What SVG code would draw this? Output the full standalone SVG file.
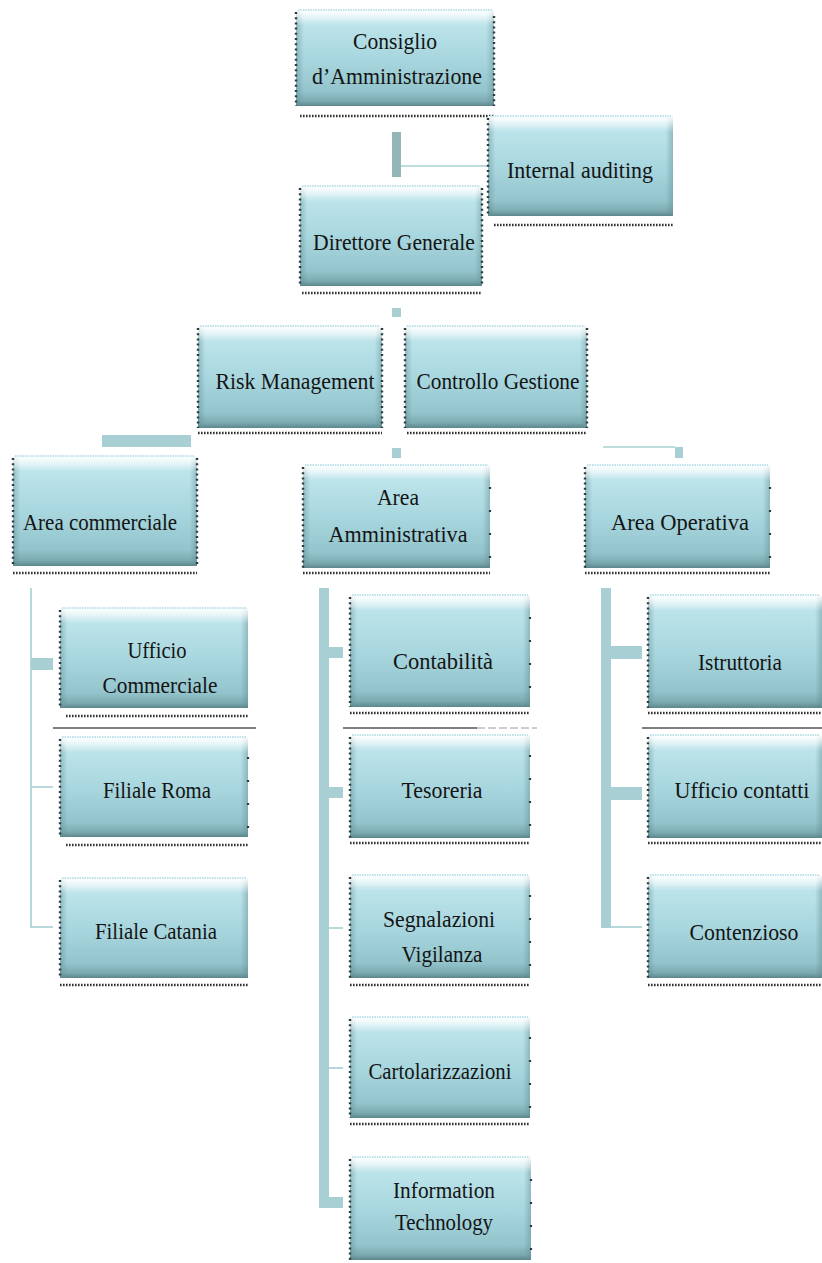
<svg xmlns="http://www.w3.org/2000/svg" width="822" height="1263" viewBox="0 0 822 1263">
<defs>
<linearGradient id="g" x1="0" y1="0" x2="0" y2="1">
<stop offset="0" stop-color="#e4f5f8"/>
<stop offset="0.12" stop-color="#bde4eb"/>
<stop offset="0.5" stop-color="#a9d7df"/>
<stop offset="0.85" stop-color="#93c4cc"/>
<stop offset="0.95" stop-color="#7caab1"/>
<stop offset="1" stop-color="#5b868c"/>
</linearGradient>
<linearGradient id="hl" x1="0" y1="0" x2="0" y2="1">
<stop offset="0" stop-color="#ffffff" stop-opacity="0.9"/>
<stop offset="1" stop-color="#ffffff" stop-opacity="0"/>
</linearGradient>
<linearGradient id="side" x1="0" y1="0" x2="1" y2="0">
<stop offset="0" stop-color="#5f8a90" stop-opacity="0.45"/>
<stop offset="0.04" stop-color="#5f8a90" stop-opacity="0"/>
<stop offset="0.96" stop-color="#5f8a90" stop-opacity="0"/>
<stop offset="1" stop-color="#5f8a90" stop-opacity="0.45"/>
</linearGradient>
</defs>
<style>
.box{fill:url(#g)}
.sd{fill:url(#side)}
.hl{fill:url(#hl)}
.dl{stroke:#2e3b3d;stroke-width:2.4;stroke-dasharray:2 3.2;fill:none}
.dr{stroke:#2e3b3d;stroke-width:2.2;stroke-dasharray:2 21;fill:none}
.db{stroke:#333;stroke-width:2.6;stroke-dasharray:1.6 1.4;fill:none}
.dt{stroke:#a9d9e3;stroke-width:1.5;stroke-dasharray:1.5 1;fill:none}
.t{font-family:"Liberation Serif","DejaVu Serif",serif;font-size:22.5px;fill:#141414;text-anchor:middle}
.c{fill:#a8cfd3}
.cl{stroke:#a8cfd3;stroke-width:1.6;fill:none}
.bk{stroke:#000;stroke-width:1.2;fill:none}
</style>

<g id="connectors">
<rect x="392" y="132" width="9" height="45" fill="#93b6b8"/>
<line class="cl" x1="401" y1="166" x2="488" y2="166"/>
<rect class="c" x="392" y="308" width="9" height="9"/>
<rect class="c" x="392" y="448" width="9" height="10"/>
<rect class="c" x="102" y="435" width="89" height="12"/>
<line class="cl" x1="603" y1="447" x2="675" y2="447"/>
<rect class="c" x="675" y="447" width="8" height="11"/>
<line class="cl" x1="31" y1="588" x2="31" y2="928"/>
<rect class="c" x="31" y="658" width="22" height="12"/>
<line class="cl" x1="31" y1="787" x2="53" y2="787"/>
<line class="cl" x1="31" y1="927" x2="53" y2="927"/>
<rect class="c" x="319" y="588" width="10" height="620"/>
<rect class="c" x="329" y="647" width="14" height="11"/>
<rect class="c" x="329" y="787" width="14" height="11"/>
<line class="cl" x1="329" y1="928" x2="343" y2="928"/>
<line class="cl" x1="329" y1="1068" x2="343" y2="1068"/>
<rect class="c" x="319" y="1197" width="24" height="11"/>
<rect class="c" x="601" y="588" width="10" height="340"/>
<rect class="c" x="611" y="646" width="31" height="13"/>
<rect class="c" x="611" y="787" width="31" height="13"/>
<line class="cl" x1="611" y1="927" x2="642" y2="927"/>
<line class="bk" x1="53" y1="728" x2="256" y2="728"/>
<line class="bk" x1="343" y1="728" x2="477" y2="728"/>
<line x1="477" y1="728" x2="537" y2="728" stroke="#9a9a9a" stroke-width="1" stroke-dasharray="8 3"/>
<line class="bk" x1="642" y1="728" x2="822" y2="728"/>
</g>

<g id="n-consiglio">
<rect class="box" x="296" y="10" width="198" height="96"/><rect class="sd" x="296" y="10" width="198" height="96"/><rect class="hl" x="296" y="10" width="198" height="16"/>
<line class="dt" x1="298" y1="10" x2="492" y2="10"/><line class="dl" x1="296" y1="12" x2="296" y2="106"/><line class="dl" x1="494" y1="16" x2="494" y2="106"/><line class="db" x1="300" y1="116" x2="494" y2="116"/>
<text class="t" x="395" y="49" textLength="84" lengthAdjust="spacingAndGlyphs">Consiglio</text>
<text class="t" x="397" y="84" textLength="170" lengthAdjust="spacingAndGlyphs">d’Amministrazione</text>
</g>

<g id="n-internal">
<rect class="box" x="488" y="116" width="185" height="100"/><rect class="sd" x="488" y="116" width="185" height="100"/><rect class="hl" x="488" y="116" width="185" height="16"/>
<line class="dt" x1="490" y1="116" x2="671" y2="116"/><line class="dl" x1="488" y1="118" x2="488" y2="216"/><line class="db" x1="494" y1="225" x2="673" y2="225" stroke-dasharray="2 4"/>
<text class="t" x="580" y="178" textLength="146" lengthAdjust="spacingAndGlyphs">Internal auditing</text>
</g>

<g id="n-direttore">
<rect class="box" x="300" y="186" width="182" height="100"/><rect class="sd" x="300" y="186" width="182" height="100"/><rect class="hl" x="300" y="186" width="182" height="16"/>
<line class="dt" x1="302" y1="186" x2="480" y2="186"/><line class="dl" x1="300" y1="188" x2="300" y2="286"/><line class="dl" x1="482" y1="188" x2="482" y2="286"/><line class="db" x1="302" y1="293" x2="482" y2="293"/>
<text class="t" x="394" y="250" textLength="162" lengthAdjust="spacingAndGlyphs">Direttore Generale</text>
</g>

<g id="n-risk">
<rect class="box" x="198" y="326" width="184" height="102"/><rect class="sd" x="198" y="326" width="184" height="102"/><rect class="hl" x="198" y="326" width="184" height="16"/>
<line class="dt" x1="200" y1="326" x2="380" y2="326"/><line class="dl" x1="198" y1="328" x2="198" y2="428"/><line class="dl" x1="382" y1="328" x2="382" y2="428"/><line class="db" x1="198" y1="433" x2="382" y2="433"/>
<text class="t" x="295" y="389" textLength="159" lengthAdjust="spacingAndGlyphs">Risk Management</text>
</g>

<g id="n-controllo">
<rect class="box" x="405" y="326" width="182" height="102"/><rect class="sd" x="405" y="326" width="182" height="102"/><rect class="hl" x="405" y="326" width="182" height="16"/>
<line class="dt" x1="407" y1="326" x2="585" y2="326"/><line class="dl" x1="405" y1="328" x2="405" y2="428"/><line class="dl" x1="587" y1="328" x2="587" y2="428"/><line class="db" x1="407" y1="433" x2="587" y2="433"/>
<text class="t" x="498" y="389" textLength="163" lengthAdjust="spacingAndGlyphs">Controllo Gestione</text>
</g>

<g id="n-commerciale">
<rect class="box" x="13" y="456" width="184" height="110"/><rect class="sd" x="13" y="456" width="184" height="110"/><rect class="hl" x="13" y="456" width="184" height="16"/>
<line class="dt" x1="15" y1="456" x2="195" y2="456"/><line class="dl" x1="13" y1="458" x2="13" y2="566"/><line class="dl" x1="197" y1="458" x2="197" y2="566"/><line class="db" x1="13" y1="573" x2="197" y2="573"/>
<text class="t" x="100" y="530" textLength="154" lengthAdjust="spacingAndGlyphs">Area commerciale</text>
</g>

<g id="n-amministrativa">
<rect class="box" x="303" y="465" width="187" height="103"/><rect class="sd" x="303" y="465" width="187" height="103"/><rect class="hl" x="303" y="465" width="187" height="16"/>
<line class="dt" x1="305" y1="465" x2="488" y2="465"/><line class="dl" x1="303" y1="467" x2="303" y2="568"/><line class="dr" x1="490" y1="487" x2="490" y2="568"/><line class="db" x1="303" y1="573" x2="490" y2="573"/>
<text class="t" x="398" y="505" textLength="42" lengthAdjust="spacingAndGlyphs">Area</text>
<text class="t" x="398" y="542" textLength="139" lengthAdjust="spacingAndGlyphs">Amministrativa</text>
</g>

<g id="n-operativa">
<rect class="box" x="585" y="465" width="185" height="103"/><rect class="sd" x="585" y="465" width="185" height="103"/><rect class="hl" x="585" y="465" width="185" height="16"/>
<line class="dt" x1="587" y1="465" x2="768" y2="465"/><line class="dl" x1="585" y1="467" x2="585" y2="568"/><line class="dr" x1="770" y1="487" x2="770" y2="568"/><line class="db" x1="585" y1="573" x2="770" y2="573"/>
<text class="t" x="680" y="530" textLength="138" lengthAdjust="spacingAndGlyphs">Area Operativa</text>
</g>

<g id="n-ufficio-commerciale">
<rect class="box" x="60" y="608" width="188" height="100"/><rect class="sd" x="60" y="608" width="188" height="100"/><rect class="hl" x="60" y="608" width="188" height="16"/>
<line class="dt" x1="62" y1="608" x2="246" y2="608"/><line class="dl" x1="60" y1="610" x2="60" y2="708"/><line class="db" x1="66" y1="716" x2="248" y2="716" stroke-dasharray="2 4.5"/>
<text class="t" x="157" y="658" textLength="59" lengthAdjust="spacingAndGlyphs">Ufficio</text>
<text class="t" x="160" y="693" textLength="115" lengthAdjust="spacingAndGlyphs">Commerciale</text>
</g>

<g id="n-filiale-roma">
<rect class="box" x="60" y="737" width="188" height="100"/><rect class="sd" x="60" y="737" width="188" height="100"/><rect class="hl" x="60" y="737" width="188" height="16"/>
<line class="dt" x1="62" y1="737" x2="246" y2="737"/><line class="dl" x1="60" y1="739" x2="60" y2="837"/><line class="dr" x1="248" y1="757" x2="248" y2="837"/><line class="db" x1="66" y1="845" x2="248" y2="845" stroke-dasharray="2 4.5"/>
<text class="t" x="157" y="798" textLength="108" lengthAdjust="spacingAndGlyphs">Filiale Roma</text>
</g>

<g id="n-filiale-catania">
<rect class="box" x="60" y="878" width="188" height="100"/><rect class="sd" x="60" y="878" width="188" height="100"/><rect class="hl" x="60" y="878" width="188" height="16"/>
<line class="dt" x1="62" y1="878" x2="246" y2="878"/><line class="dl" x1="60" y1="880" x2="60" y2="978"/><line class="db" x1="60" y1="985" x2="248" y2="985"/>
<text class="t" x="156" y="939" textLength="122" lengthAdjust="spacingAndGlyphs">Filiale Catania</text>
</g>

<g id="n-contabilita">
<rect class="box" x="350" y="595" width="180" height="112"/><rect class="sd" x="350" y="595" width="180" height="112"/><rect class="hl" x="350" y="595" width="180" height="16"/>
<line class="dt" x1="352" y1="595" x2="528" y2="595"/><line class="dl" x1="350" y1="597" x2="350" y2="707"/><line class="dr" x1="530" y1="617" x2="530" y2="707"/><line class="db" x1="350" y1="713" x2="530" y2="713"/>
<text class="t" x="443" y="669" textLength="100" lengthAdjust="spacingAndGlyphs">Contabilità</text>
</g>

<g id="n-tesoreria">
<rect class="box" x="350" y="735" width="180" height="103"/><rect class="sd" x="350" y="735" width="180" height="103"/><rect class="hl" x="350" y="735" width="180" height="16"/>
<line class="dt" x1="352" y1="735" x2="528" y2="735"/><line class="dl" x1="350" y1="737" x2="350" y2="838"/><line class="dr" x1="530" y1="755" x2="530" y2="838"/><line class="db" x1="350" y1="843" x2="530" y2="843"/>
<text class="t" x="442" y="798" textLength="81" lengthAdjust="spacingAndGlyphs">Tesoreria</text>
</g>

<g id="n-segnalazioni">
<rect class="box" x="350" y="875" width="180" height="103"/><rect class="sd" x="350" y="875" width="180" height="103"/><rect class="hl" x="350" y="875" width="180" height="16"/>
<line class="dt" x1="352" y1="875" x2="528" y2="875"/><line class="dl" x1="350" y1="877" x2="350" y2="978"/><line class="dr" x1="530" y1="895" x2="530" y2="978"/><line class="db" x1="350" y1="985" x2="530" y2="985"/>
<text class="t" x="439" y="927" textLength="112" lengthAdjust="spacingAndGlyphs">Segnalazioni</text>
<text class="t" x="442" y="962" textLength="81" lengthAdjust="spacingAndGlyphs">Vigilanza</text>
</g>

<g id="n-cartolarizzazioni">
<rect class="box" x="350" y="1017" width="180" height="101"/><rect class="sd" x="350" y="1017" width="180" height="101"/><rect class="hl" x="350" y="1017" width="180" height="16"/>
<line class="dt" x1="352" y1="1017" x2="528" y2="1017"/><line class="dl" x1="350" y1="1019" x2="350" y2="1118"/><line class="dr" x1="530" y1="1037" x2="530" y2="1118"/><line class="db" x1="350" y1="1124" x2="530" y2="1124"/>
<text class="t" x="440" y="1079" textLength="143" lengthAdjust="spacingAndGlyphs">Cartolarizzazioni</text>
</g>

<g id="n-it">
<rect class="box" x="350" y="1157" width="181" height="103"/><rect class="sd" x="350" y="1157" width="181" height="103"/><rect class="hl" x="350" y="1157" width="181" height="16"/>
<line class="dt" x1="352" y1="1157" x2="529" y2="1157"/><line class="dl" x1="350" y1="1159" x2="350" y2="1260"/><line class="dr" x1="531" y1="1179" x2="531" y2="1260"/>
<text class="t" x="444" y="1198" textLength="102" lengthAdjust="spacingAndGlyphs">Information</text>
<text class="t" x="444" y="1230" textLength="98" lengthAdjust="spacingAndGlyphs">Technology</text>
</g>

<g id="n-istruttoria">
<rect class="box" x="648" y="595" width="174" height="113"/><rect class="sd" x="648" y="595" width="174" height="113"/><rect class="hl" x="648" y="595" width="174" height="16"/>
<line class="dt" x1="650" y1="595" x2="820" y2="595"/><line class="dl" x1="648" y1="597" x2="648" y2="708"/><line class="db" x1="648" y1="713" x2="822" y2="713"/>
<text class="t" x="740" y="670" textLength="84" lengthAdjust="spacingAndGlyphs">Istruttoria</text>
</g>

<g id="n-ufficio-contatti">
<rect class="box" x="648" y="735" width="174" height="103"/><rect class="sd" x="648" y="735" width="174" height="103"/><rect class="hl" x="648" y="735" width="174" height="16"/>
<line class="dt" x1="650" y1="735" x2="820" y2="735"/><line class="dl" x1="648" y1="737" x2="648" y2="838"/><line class="db" x1="648" y1="843" x2="822" y2="843"/>
<text class="t" x="742" y="798" textLength="135" lengthAdjust="spacingAndGlyphs">Ufficio contatti</text>
</g>

<g id="n-contenzioso">
<rect class="box" x="648" y="875" width="174" height="103"/><rect class="sd" x="648" y="875" width="174" height="103"/><rect class="hl" x="648" y="875" width="174" height="16"/>
<line class="dt" x1="650" y1="875" x2="820" y2="875"/><line class="dl" x1="648" y1="877" x2="648" y2="978"/><line class="db" x1="648" y1="985" x2="822" y2="985"/>
<text class="t" x="744" y="940" textLength="109" lengthAdjust="spacingAndGlyphs">Contenzioso</text>
</g>
</svg>
